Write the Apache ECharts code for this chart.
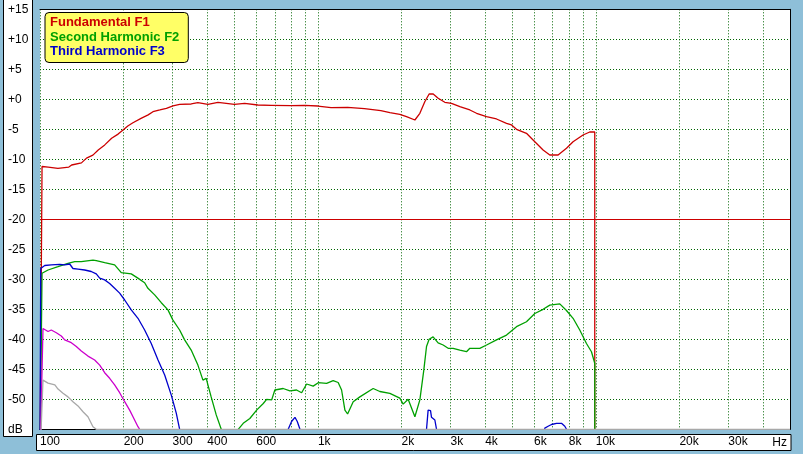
<!DOCTYPE html>
<html><head><meta charset="utf-8">
<script src="https://cdn.jsdelivr.net/npm/echarts@6/dist/echarts.min.js"></script>
<style>html,body{margin:0;padding:0;background:#8ebfd8}#c{width:803px;height:454px}</style>
</head><body><div id="c"></div>
<script>
// ---- data (frequency in Hz, level in dB) ----
const f1Freq = [100,101.7,107,116,127,130,141,147,155,162,171,181,191,199,207,216,231,245,255,270,285,301,318,350,370,402,437,501,545,608,679,800,895,1000,1115,1280,1471,1685,1816,1972,2084,2234,2328,2425,2514,2600,2709,2863,3026,3243,3523,3724,4044,4393,4773,4975,5185,5632,5949,6463,6832,7318,7846,8284,8999,9512,9917,9918];
const f1Db   = [-60,-11.2,-11.3,-11.5,-11.3,-10.95,-10.6,-9.8,-9.3,-8.45,-7.6,-6.5,-5.8,-5.1,-4.45,-3.9,-3.17,-2.6,-2.07,-1.78,-1.5,-1.1,-0.83,-0.78,-0.57,-0.83,-0.5,-0.83,-0.67,-0.95,-1.0,-1.07,-1.0,-1.12,-1.4,-1.33,-1.57,-1.9,-2.23,-2.5,-2.9,-3.45,-2.33,-0.4,0.88,0.88,0.17,-0.5,-0.67,-1.23,-1.78,-2.33,-2.9,-3.28,-4.0,-4.28,-5.0,-5.67,-6.78,-8.45,-9.28,-9.28,-8.17,-7.07,-5.95,-5.45,-5.45,-60];

const f2Freq = [100,101.7,106.9,116.1,126.1,133.3,140.8,155.1,159.4,170.9,185.6,196.1,213,225,238,244.6,258.6,273.2,288.7,300.9,318,331.5,350,370,385.8,396.5,402,413,430.7,449,480,516.8,538.7,569,602,636,654,682,700,750,793,838,874,911,962,1003,1075,1135,1183,1217,1251,1279,1340,1416,1581,1671,1816,1972,2027,2113,2234,2328,2406,2460,2514,2598,2708,2823,2943,3067,3242,3427,3522,3825,4045,4394,4774,5185,5632,6034,6464,6833,7421,7846,8286,8758,9258,9649,9917,9918];
const f2Db   = [-60,-29.0,-28.45,-27.9,-27.33,-27.07,-27.07,-26.8,-26.9,-27.23,-27.6,-28.9,-29.1,-29.8,-30.57,-31.5,-32.6,-33.9,-35.1,-36.8,-38.45,-40.1,-41.8,-44.3,-46.8,-46.5,-47.6,-49.6,-52.6,-55,-60,-55,-54,-53.2,-51.8,-50.7,-50.0,-50.1,-48.45,-48.2,-48.6,-48.45,-48.9,-47.45,-47.8,-47.23,-47.33,-46.9,-47.2,-48.45,-51.8,-52.45,-50.4,-49.6,-48.2,-48.7,-49.0,-49.8,-50.8,-50.0,-52.9,-50.1,-45.1,-41.2,-40.0,-39.6,-40.6,-40.95,-41.5,-41.5,-41.8,-42.07,-41.5,-41.5,-40.95,-40.1,-39.3,-37.9,-37.07,-35.7,-35.0,-34.3,-34.1,-35.2,-36.5,-38.45,-40.7,-42.07,-44.0,-60];

const f3Freq = [100,100.6,104,109.8,117.7,122.7,127.9,131.4,137,144.8,152.9,159.4,164,170.9,178.1,185.6,193.5,201.7,213,225.2,238,251.4,265.9,281,296.8,309.3,318.1,330,760,782,804,827,843,862,880,2400,2460,2493,2543,2564,2598,2636,2673,2720,6400,6555,6738,6929,7222,7528,7737,7846,7950];
const f3Db   = [-60,-28.2,-27.7,-27.6,-27.5,-27.6,-27.45,-28.2,-28.3,-28.45,-28.7,-29.1,-29.8,-30.1,-30.7,-31.5,-32.3,-33.45,-35.1,-36.5,-38.45,-40.7,-43.45,-45.95,-49.3,-52.3,-55,-62,-62,-55,-53.7,-53.0,-53.7,-55,-62,-62,-55,-51.8,-51.9,-53.0,-53.2,-53.45,-55,-62,-62,-54.8,-54.5,-54.2,-54.0,-54.0,-54.5,-55,-62];

const f4Freq = [100,102.5,106.9,109.8,114.5,119.3,122.7,129.6,135.1,140.8,148.8,157.3,164,170.9,178.1,185.6,193.5,201.7,210.2,216.1,225.2,228.4,235];
const f4Db   = [-60,-38.2,-38.7,-38.45,-38.9,-39.45,-40.1,-40.57,-41.2,-41.95,-42.8,-43.45,-44.3,-45.57,-46.5,-47.6,-48.9,-50.4,-51.8,-52.9,-54.57,-55,-62];

const f5Freq = [100,102.5,106.9,113.1,116.1,121,126.1,131.4,137,142.8,148.8,155.1,159.4,50000];
const f5Db   = [-60,-46.8,-47.3,-47.6,-48.3,-49.0,-49.6,-50.4,-51.1,-52.07,-52.9,-54.57,-55,-55];

const xGridValues  = [100,200,300,400,500,600,700,800,900,1000,2000,3000,4000,5000,6000,7000,8000,9000,10000,20000,30000,40000,50000];
const xLabelValues = [100,200,300,400,600,1000,2000,3000,4000,6000,8000,10000,20000,30000];
const yMin = -55, yMax = 15, yStep = 5;
const legendNames = ['Fundamental F1','Second Harmonic F2','Third Harmonic F3'];

// ---- chart ----
const zip = (a, b) => a.map((v, i) => [v, b[i]]);
const FONT = 'Liberation Sans';
const GRID_COLOR = '#006400';

const chart = echarts.init(document.getElementById('c'), null, {renderer: 'canvas'});
function mkLine(name, color, freq, db, extra) {
  return Object.assign({
    name, type: 'line', data: zip(freq, db), showSymbol: false, symbol: 'none',
    lineStyle: {color, width: 1.3}, itemStyle: {color}, clip: true, animation: false, silent: true
  }, extra || {});
}
chart.setOption({
  animation: false,
  backgroundColor: '#8ebfd8',
  grid: {left: 40, top: 9.3, width: 750, height: 420, show: true, backgroundColor: '#ffffff', borderWidth: 0, containLabel: false},
  graphic: [
    {type: 'rect', z: -1, shape: {x: 3.5, y: -2, width: 29, height: 438.5}, style: {fill: '#ffffff', stroke: '#000', lineWidth: 1}},
    {type: 'rect', z: -1, shape: {x: 36.5, y: 434.5, width: 754.5, height: 16}, style: {fill: '#ffffff', stroke: '#000', lineWidth: 1}},
    {type: 'text', z: 10, style: {x: 787, y: 442.5, text: 'Hz', fill: '#000', font: '12px "' + FONT + '"', align: 'right', verticalAlign: 'middle'}}
  ],
  legend: {
    data: legendNames.map((n, i) => ({name: n, textStyle: {color: ['#cc0000', '#00a000', '#0000cc'][i]}})),
    orient: 'vertical', left: 45, top: 12.5, itemWidth: 0, itemHeight: 0, itemGap: 0.5,
    padding: [3, 9, 4, 0], backgroundColor: '#ffff66', borderColor: '#000', borderWidth: 1, borderRadius: 4,
    selectedMode: false, icon: 'rect', itemStyle: {opacity: 0},
    textStyle: {fontWeight: 'bold', fontSize: 13, fontFamily: FONT, lineHeight: 14}
  },
  xAxis: [{
    type: 'log', logBase: 10, min: 100, max: 50000, position: 'bottom',
    axisLine: {show: true, onZero: false, lineStyle: {color: '#000', width: 1}},
    axisTick: {show: false, customValues: xGridValues},
    minorTick: {show: false}, minorSplitLine: {show: false},
    splitLine: {show: true, lineStyle: {color: GRID_COLOR, type: [1, 2], width: 1}},
    axisLabel: {customValues: xLabelValues, formatter: v => v >= 1000 ? (v / 1000) + 'k' : String(v),
      align: 'left', margin: 6, color: '#000', fontSize: 12, fontFamily: FONT, hideOverlap: false}
  }, {
    type: 'log', logBase: 10, min: 100, max: 50000, position: 'top',
    axisLine: {show: true, onZero: false, lineStyle: {color: '#000', width: 1}},
    axisTick: {show: false}, axisLabel: {show: false}, splitLine: {show: false}
  }],
  yAxis: [{
    type: 'value', min: yMin, max: yMax, interval: yStep, position: 'left',
    axisLine: {show: false}, axisTick: {show: false},
    splitLine: {show: true, lineStyle: {color: GRID_COLOR, type: [1, 2], width: 1}},
    axisLabel: {formatter: v => v === yMin ? 'dB' : (v >= 0 ? '+' + v : String(v)),
      align: 'left', margin: 32, color: '#000', fontSize: 12, fontFamily: FONT}
  }, {
    type: 'value', min: yMin, max: yMax, interval: yStep, position: 'right',
    axisLine: {show: true, onZero: false, lineStyle: {color: '#000', width: 1}},
    axisTick: {show: false}, axisLabel: {show: false}, splitLine: {show: false}
  }],
  series: [
    mkLine('Fundamental F1', '#cc0000', f1Freq, f1Db, {
      markLine: {silent: true, symbol: 'none', label: {show: false}, animation: false,
        lineStyle: {color: '#cc0000', type: 'solid', width: 1}, data: [{yAxis: -20}]}
    }),
    mkLine('Second Harmonic F2', '#00a000', f2Freq, f2Db),
    mkLine('Third Harmonic F3', '#0000cc', f3Freq, f3Db),
    mkLine('F4', '#cc00cc', f4Freq, f4Db),
    mkLine('F5', '#a8a8a8', f5Freq, f5Db)
  ]
});
</script>
</body></html>
